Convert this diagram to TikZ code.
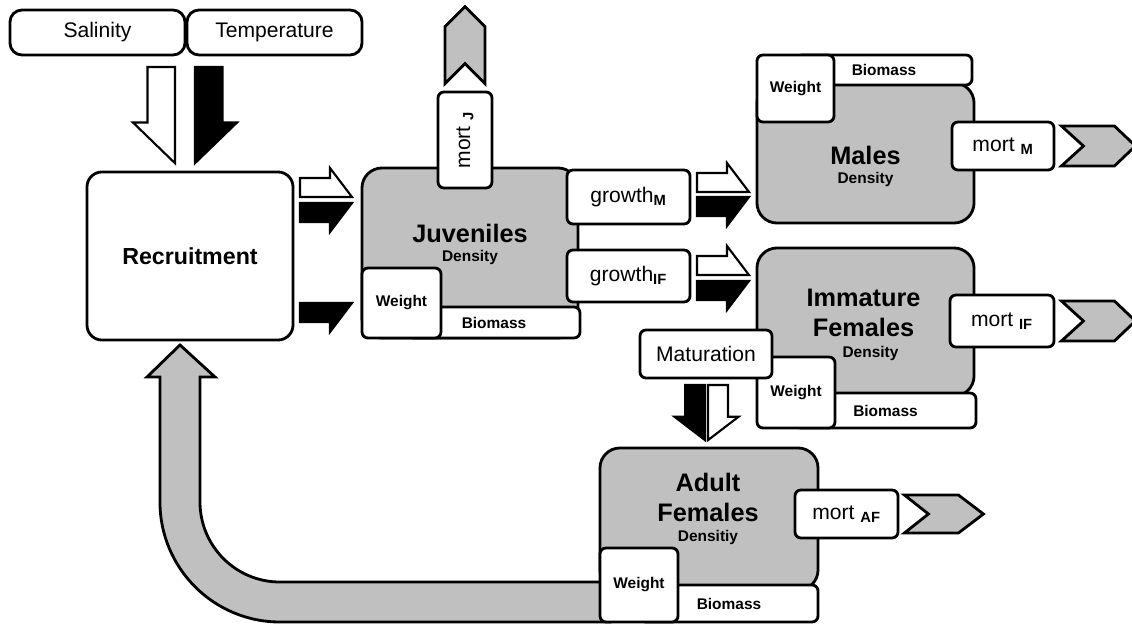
\documentclass[tikz,border=0pt]{standalone}
\usepackage{fontspec}
\setmainfont{Liberation Sans}
\usepackage{xcolor}
\definecolor{stockgray}{RGB}{192,192,192}
\tikzstyle{basicbox}=[draw, line width=2pt, inner sep=0pt]
\tikzstyle{driverbox}=[basicbox, fill=white, rounded corners=0.3cm, font=\fontsize{15}{18}\selectfont]
\tikzstyle{sourcebox}=[basicbox, fill=white, rounded corners=0.375cm, font=\fontsize{16.5}{20}\selectfont\bfseries]
\tikzstyle{stockbox}=[basicbox, fill=stockgray, rounded corners=0.5cm]
\tikzstyle{ratebox}=[basicbox, fill=white, rounded corners=0.15cm, font=\fontsize{15}{18}\selectfont]
\tikzstyle{attrbox}=[basicbox, fill=white, rounded corners=0.15cm, font=\fontsize{11}{13}\selectfont\bfseries]
\tikzstyle{stocktitle}=[font=\fontsize{18}{21.5}\selectfont\bfseries, align=center]
\tikzstyle{stocknote}=[font=\fontsize{11}{13}\selectfont\bfseries]
\tikzstyle{whitehalf}=[draw, fill=white, line width=1.5pt]
\tikzstyle{blackhalf}=[draw, fill=black, line width=1.5pt]
\tikzstyle{outflow}=[draw, fill=stockgray, line width=2pt]
\tikzset{halfarrow/.pic={\path[pic actions] (0,0) -- (0,-19) -- (30,-19) -- (30,-29) -- (52,0) -- cycle;}}

\begin{document}
\begin{tikzpicture}[x=0.025cm, y=-0.025cm]
	\useasboundingbox (0,0) rectangle (1132,624);
	% feedback from the adult females
	\filldraw[outflow] (180,345) -- (215,377) -- (200,377) -- (200,502)
		arc[start angle=180, end angle=270, radius=2cm] -- (610,582) -- (610,622) -- (280,622)
		arc[start angle=270, end angle=180, radius=3cm] -- (160,377) -- (147,377) -- cycle;
	\node (salinity) [driverbox, minimum width=4.375cm, minimum height=1.125cm] at (97.5,32.5) {Salinity};
	\node (temperature) [driverbox, minimum width=4.375cm, minimum height=1.125cm] at (274.5,32.5) {Temperature};
	\node (recruitment) [sourcebox, minimum width=5.15cm, minimum height=4.2cm] at (190,256) {Recruitment};
	\pic[whitehalf, rotate=-90, xscale=1.85, yscale=-1.45] at (175,67) {halfarrow};
	\pic[blackhalf, rotate=-90, xscale=1.85, yscale=1.45] at (195,67) {halfarrow};
	\pic[whitehalf] at (300,197) {halfarrow};
	\pic[blackhalf, yscale=-1] at (300,203) {halfarrow};
	\pic[blackhalf, yscale=-1] at (300,303) {halfarrow};
	% juveniles
	\node (juveniles) [stockbox, minimum width=5.4cm, minimum height=4.25cm] at (470,253) {};
	\path (juveniles) + (0,-20) node [stocktitle] {Juveniles};
	\path (juveniles) + (0,4) node [stocknote] {Density};
	\node (juvbiomass) [attrbox, minimum width=4.3cm, minimum height=0.775cm] at (494,322.5) {Biomass};
	\node (juvweight) [attrbox, minimum width=1.975cm, minimum height=1.75cm] at (401.5,303) {Weight};
	\node (mortj) [ratebox, rotate=90, minimum width=2.4cm, minimum height=1.35cm] at (465,140) {mort~\textsubscript{\bfseries J}};
	\filldraw[outflow] ([yshift=0.175cm]mortj.east) ++(-20,0) -- ++(0,-57) -- ++(20,-20) -- ++(20,20) -- ++(0,57) -- ++(-20,-20) -- cycle;
	\node (growthm) [ratebox, minimum width=3.075cm, minimum height=1.35cm] at (628.5,197) {growth\textsubscript{\bfseries M}};
	\node (growthif) [ratebox, minimum width=3.075cm, minimum height=1.3cm] at (628.5,276) {growth\textsubscript{\bfseries IF}};
	\pic[whitehalf] at (697,192) {halfarrow};
	\pic[blackhalf, yscale=-1] at (697,197) {halfarrow};
	\pic[whitehalf] at (697,275) {halfarrow};
	\pic[blackhalf, yscale=-1] at (697,281) {halfarrow};
	% males
	\node (males) [stockbox, minimum width=5.425cm, minimum height=3.5cm] at (865.5,153) {};
	\path (males) + (0,2) node [stocktitle] {Males};
	\path (males) + (0,27) node [stocknote] {Density};
	\node (malbiomass) [attrbox, minimum width=4.4cm, minimum height=0.75cm] at (884,70) {Biomass};
	\node (malweight) [attrbox, minimum width=1.925cm, minimum height=1.675cm] at (795.5,88.5) {Weight};
	\node (mortm) [ratebox, minimum width=2.55cm, minimum height=1.2cm] at (1003,146) {mort~\textsubscript{\bfseries M}};
	\filldraw[outflow] ([xshift=0.15cm]mortm.east) ++(0,-20) -- ++(53,0) -- ++(21,20) -- ++(-21,20) -- ++(-53,0) -- ++(22,-20) -- cycle;
	% immature females
	\node (immature) [stockbox, minimum width=5.425cm, minimum height=3.7cm] at (865.5,322) {};
	\path (immature) + (-2,-9) node [stocktitle] {Immature\\Females};
	\path (immature) + (5,31) node [stocknote] {Density};
	\node (immbiomass) [attrbox, minimum width=4.525cm, minimum height=0.875cm] at (885.5,410.5) {Biomass};
	\node (immweight) [attrbox, minimum width=1.95cm, minimum height=1.775cm] at (796,392.5) {Weight};
	\node (maturation) [ratebox, minimum width=3.3cm, minimum height=1.2cm] at (706,354) {Maturation};
	\node (mortif) [ratebox, minimum width=2.6cm, minimum height=1.3cm] at (1002,321) {mort~\textsubscript{\bfseries IF}};
	\filldraw[outflow] ([xshift=0.15cm]mortif.east) ++(0,-20) -- ++(53,0) -- ++(21,20) -- ++(-21,20) -- ++(-53,0) -- ++(22,-20) -- cycle;
	\pic[blackhalf, rotate=-90, xscale=1.06, yscale=-1.05] at (705,385) {halfarrow};
	\pic[whitehalf, rotate=-90, xscale=1.06, yscale=1.05] at (708,385) {halfarrow};
	% adult females
	\node (adult) [stockbox, minimum width=5.45cm, minimum height=3.55cm] at (709,519) {};
	\path (adult) + (-1,-21.5) node [stocktitle] {Adult\\Females};
	\path (adult) + (-1,18) node [stocknote] {Densitiy};
	\node (adbiomass) [attrbox, minimum width=4.45cm, minimum height=0.925cm] at (729,603.5) {Biomass};
	\node (adweight) [attrbox, minimum width=1.95cm, minimum height=1.85cm] at (639,585) {Weight};
	\node (mortaf) [ratebox, minimum width=2.575cm, minimum height=1.2cm] at (846.5,514) {mort~\textsubscript{\bfseries AF}};
	\filldraw[outflow] ([xshift=0.125cm]mortaf.east) ++(0,-19) -- ++(54,0) -- ++(25,19) -- ++(-25,19) -- ++(-54,0) -- ++(24,-19) -- cycle;
\end{tikzpicture}
\end{document}
